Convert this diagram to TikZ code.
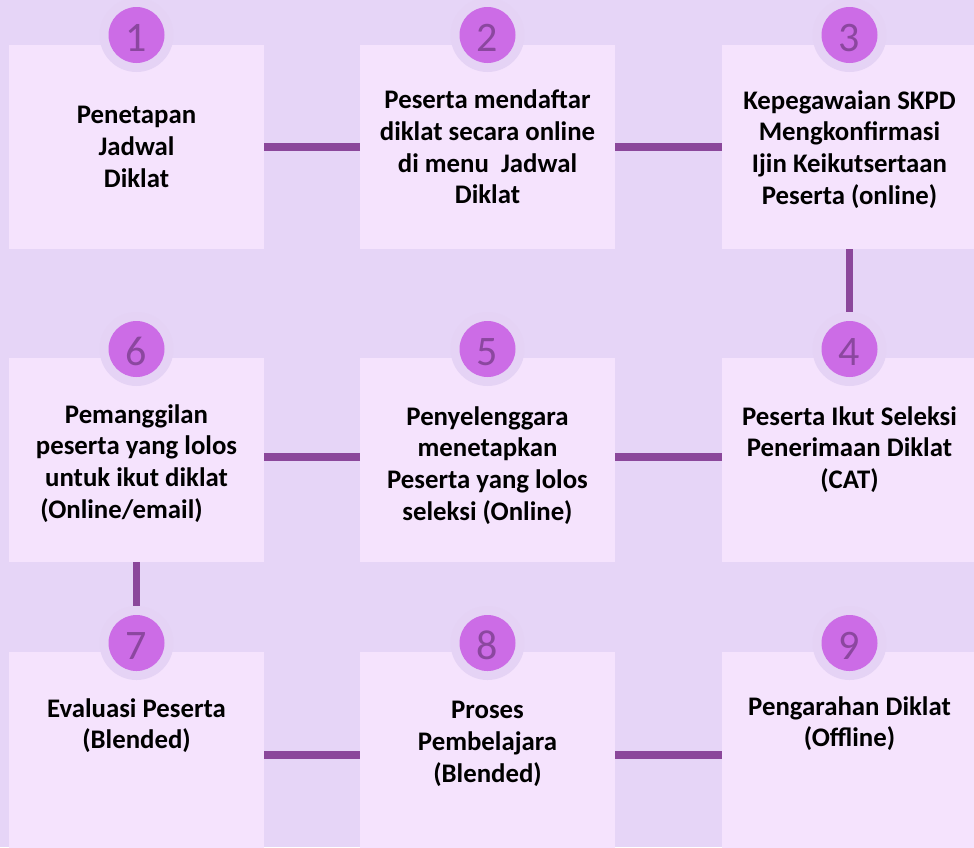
\documentclass[tikz,border=0pt]{standalone}
\usepackage{fontspec}
\setmainfont{Carlito}
\definecolor{bgcol}{HTML}{E6D5F7}
\definecolor{boxcol}{HTML}{F5E3FD}
\definecolor{halocol}{HTML}{E5D3F5}
\definecolor{circcol}{HTML}{CC6CE6}
\definecolor{numcol}{HTML}{8B479F}
\definecolor{conncol}{HTML}{8B479B}
\begin{document}
\begin{tikzpicture}[x=1pt,y=-1pt,
  stepbox/.style={fill=boxcol, draw=none, rectangle, minimum width=255pt, minimum height=204pt, inner sep=0pt, outer sep=0pt, anchor=north west},
  haloring/.style={circle, fill=halocol, draw=none, minimum size=74pt, inner sep=0pt, outer sep=0pt},
  numcirc/.style={circle, fill=circcol, draw=none, minimum size=56pt, inner sep=0pt, outer sep=0pt},
  numtext/.style={anchor=base, inner sep=0pt, text=numcol, font=\fontsize{42}{50}\selectfont},
  steptext/.style={anchor=north, inner sep=0pt, align=center, text=black, font=\bfseries\fontsize{26.8}{31.8}\selectfont},
  conn/.style={draw=conncol, line width=7.5pt}]
\useasboundingbox (0,0) rectangle (974,847);
\fill[bgcol] (0,0) rectangle (974,847);
% boxes
\node[stepbox] (b1) at (9,45) {};
\node[stepbox] (b2) at (360,45) {};
\node[stepbox] (b3) at (722,45) {};
\node[stepbox] (b6) at (9,358) {};
\node[stepbox] (b5) at (360,358) {};
\node[stepbox] (b4) at (722,358) {};
\node[stepbox] (b7) at (9,652) {};
\node[stepbox] (b8) at (360,652) {};
\node[stepbox] (b9) at (722,652) {};
% halos and circles
\foreach \n/\cx/\cy in {1/136.5/35, 2/487.5/35, 3/849.5/35, 6/136.5/349, 5/487.5/349, 4/849.5/349, 7/136.5/643, 8/487.5/643, 9/849.5/643}{
  \node[haloring] (h\n) at (\cx,\cy) {};
  \node[numcirc] (c\n) at (\cx,\cy) {};
  \node[numtext] (n\n) at (\cx,\cy+16.5) {\n};
}
% connectors
\draw[conn] (b1.east) -- (b2.west);
\draw[conn] (b2.east) -- (b3.west);
\draw[conn] (b3.south) -- (h4.north);
\draw[conn] ([yshift=3pt]b5.east) -- ([yshift=3pt]b4.west);
\draw[conn] ([yshift=3pt]b6.east) -- ([yshift=3pt]b5.west);
\draw[conn] (b6.south) -- (h7.north);
\draw[conn] ([yshift=-1pt]b7.east) -- ([yshift=-1pt]b8.west);
\draw[conn] ([yshift=-1pt]b8.east) -- ([yshift=-1pt]b9.west);
% texts
\node[steptext] (t1) at (136.5,106) {Penetapan\\Jadwal\\Diklat};
\node[steptext] (t2) at (487.5,89.5) {Peserta mendaftar\\diklat secara online\\di menu\ \ Jadwal\\Diklat};
\node[steptext] (t3) at (849.5,90) {Kepegawaian SKPD\\Mengkonfirmasi\\Ijin Keikutsertaan\\Peserta (online)};
\node[steptext] (t6) at (136.5,404) {Pemanggilan\\peserta yang lolos\\untuk ikut diklat\\(Online/email)\hspace*{30pt}};
\node[steptext] (t5) at (487.5,406) {Penyelenggara\\menetapkan\\Peserta yang lolos\\seleksi (Online)};
\node[steptext] (t4) at (849.5,406) {Peserta Ikut Seleksi\\Penerimaan Diklat\\(CAT)};
\node[steptext] (t7) at (136.5,698) {Evaluasi Peserta\\(Blended)};
\node[steptext] (t8) at (487.5,701) {Proses\\Pembelajara\\(Blended)};
\node[steptext] (t9) at (849.5,696) {Pengarahan Diklat\\(Offline)};
\end{tikzpicture}
\end{document}
